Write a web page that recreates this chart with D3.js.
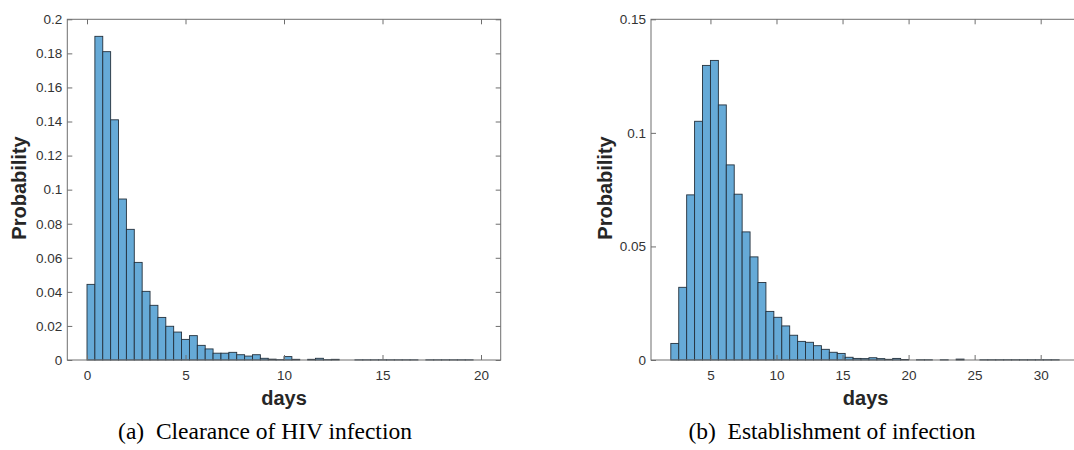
<!DOCTYPE html>
<html lang="en">
<head>
  <meta charset="UTF-8">
  <title>Clearance and establishment of HIV infection</title>
  <script src="https://d3js.org/d3.v7.min.js"></script>
  <style>
    body {
      margin: 0;
      background: #fff;
    }
    svg {
      display: block;
    }
    .axis path {
      display: none;
    }
    .axis line {
      stroke: #6e6e6e;
    }
    .axis text {
      font-family: "Liberation Sans", Arial, sans-serif;
      font-size: 13.5px;
      fill: #333;
    }
    .frame {
      fill: none;
      stroke: #6e6e6e;
      stroke-width: 1;
    }
    .bar {
      fill: #66aad7;
      stroke: #24313d;
      stroke-width: 0.9;
    }
    .axis-label {
      font-family: "Liberation Sans", Arial, sans-serif;
      font-weight: bold;
      font-size: 20px;
      fill: #262626;
      text-anchor: middle;
    }
    .caption {
      font-family: "Liberation Serif", "Times New Roman", serif;
      font-size: 23.5px;
      fill: #000;
      text-anchor: middle;
      white-space: pre;
    }
  </style>
</head>
<body>
<script>
  // (a) clearance of HIV infection, bins of 0.4 days from day 0
  const clearStart = 0;
  const clearBin = 0.4;
  const clearProb = [
    0.0444, 0.190, 0.181, 0.141, 0.0945, 0.0767, 0.0573, 0.0403, 0.0321, 0.0250,
    0.0198, 0.0164, 0.0121, 0.0143, 0.0086, 0.0065, 0.0040, 0.0040, 0.0045, 0.0031,
    0.0023, 0.0031, 0.0010, 0.0005, 0.0002, 0.0020, 0.0004, 0, 0.0004, 0.0010,
    0.0002, 0.0004, 0, 0, 0.0001, 0.0001, 0.0001, 0.0001, 0.0001, 0.0001,
    0.0001, 0.0001, 0, 0.0001, 0.0001, 0.0001, 0.0001, 0.0001, 0.0001, 0
  ];
  const clearXTicks = [0, 5, 10, 15, 20];
  const clearYTicks = [0, 0.02, 0.04, 0.06, 0.08, 0.1, 0.12, 0.14, 0.16, 0.18, 0.2];
  const clearYLabels = ["0", "0.02", "0.04", "0.06", "0.08", "0.1", "0.12", "0.14", "0.16", "0.18", "0.2"];

  // (b) establishment of infection, bins of 0.6 days from day 2
  const estStart = 2;
  const estBin = 0.6;
  const estProb = [
    0.0073, 0.0320, 0.0727, 0.1051, 0.1297, 0.1319, 0.1123, 0.0859, 0.0730, 0.0564,
    0.0454, 0.0341, 0.0214, 0.0188, 0.0150, 0.0109, 0.0082, 0.0078, 0.0063, 0.0047,
    0.0034, 0.0029, 0.0012, 0.0007, 0.0006, 0.0010, 0.0006, 0.0003, 0.0007, 0.0002,
    0, 0.0001, 0.0001, 0, 0.0001, 0, 0.0004, 0, 0, 0.0001,
    0.0001, 0.0001, 0.0001, 0.0001, 0.0001, 0.0001, 0.0001, 0.0001, 0.0001
  ];
  const estXTicks = [5, 10, 15, 20, 25, 30];
  const estYTicks = [0, 0.05, 0.1, 0.15];
  const estYLabels = ["0", "0.05", "0.1", "0.15"];

  const xLabel = "days";
  const yLabel = "Probability";
  const captions = ["(a)  Clearance of HIV infection", "(b)  Establishment of infection"];

  const width = 1074;
  const height = 450;
  const plotTop = 19.3;
  const plotBottom = 360;

  const svg = d3.select("body").append("svg")
    .attr("width", width)
    .attr("height", height);

  function drawHist(o) {
    const x = d3.scaleLinear().domain(o.xDomain).range(o.xRange);
    const y = d3.scaleLinear().domain([0, o.yMax]).range([plotBottom, plotTop]);
    const g = svg.append("g");

    const bins = o.probs.map((p, i) => ({
      x0: o.start + i * o.bin,
      x1: o.start + (i + 1) * o.bin,
      p: p
    })).filter(d => d.p > 0);

    g.selectAll("rect.bar")
      .data(bins)
      .join("rect")
      .attr("class", "bar")
      .attr("x", d => x(d.x0))
      .attr("width", d => x(d.x1) - x(d.x0))
      .attr("y", d => y(d.p))
      .attr("height", d => y(0) - y(d.p));

    // box with inward ticks on all four sides
    g.append("rect")
      .attr("class", "frame")
      .attr("x", o.xRange[0])
      .attr("y", plotTop)
      .attr("width", o.xRange[1] - o.xRange[0])
      .attr("height", plotBottom - plotTop);

    g.append("g")
      .attr("class", "axis")
      .attr("transform", `translate(0,${plotBottom})`)
      .call(d3.axisBottom(x).tickValues(o.xTicks).tickFormat(d3.format("d"))
        .tickSizeInner(-5).tickSizeOuter(0).tickPadding(10));

    g.append("g")
      .attr("class", "axis")
      .attr("transform", `translate(0,${plotTop})`)
      .call(d3.axisTop(x).tickValues(o.xTicks).tickFormat("")
        .tickSizeInner(-5).tickSizeOuter(0));

    g.append("g")
      .attr("class", "axis")
      .attr("transform", `translate(${o.xRange[0]},0)`)
      .call(d3.axisLeft(y).tickValues(o.yTicks).tickFormat((d, i) => o.yLabels[i])
        .tickSizeInner(-5).tickSizeOuter(0).tickPadding(5));

    g.append("g")
      .attr("class", "axis")
      .attr("transform", `translate(${o.xRange[1]},0)`)
      .call(d3.axisRight(y).tickValues(o.yTicks).tickFormat("")
        .tickSizeInner(-5).tickSizeOuter(0));

    g.append("text")
      .attr("class", "axis-label")
      .attr("x", (o.xRange[0] + o.xRange[1]) / 2)
      .attr("y", 405)
      .text(xLabel);

    g.append("text")
      .attr("class", "axis-label")
      .attr("transform", `translate(${o.yLabelX},188) rotate(-90)`)
      .text(yLabel);

    g.append("text")
      .attr("class", "caption")
      .attr("x", o.captionX)
      .attr("y", 439)
      .text(o.caption);
  }

  drawHist({
    probs: clearProb, start: clearStart, bin: clearBin,
    xDomain: [-1, 21], xRange: [67.3, 500.7], yMax: 0.2,
    xTicks: clearXTicks, yTicks: clearYTicks, yLabels: clearYLabels,
    yLabelX: 26, caption: captions[0], captionX: 265
  });

  drawHist({
    probs: estProb, start: estStart, bin: estBin,
    xDomain: [0.5, 33], xRange: [651, 1080.3], yMax: 0.15,
    xTicks: estXTicks, yTicks: estYTicks, yLabels: estYLabels,
    yLabelX: 612, caption: captions[1], captionX: 832
  });
</script>
</body>
</html>
